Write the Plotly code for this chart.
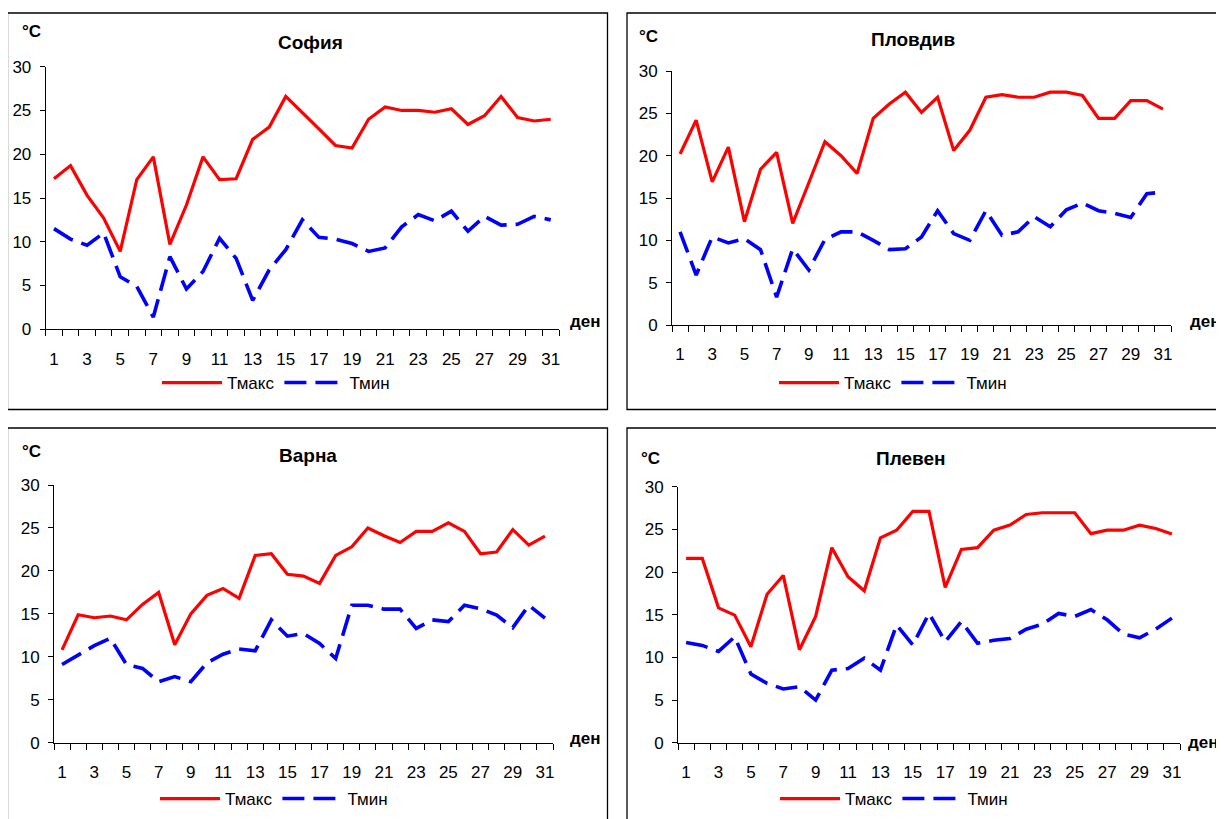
import plotly.graph_objects as go

days = list(range(1, 32))
cities = ["София", "Пловдив", "Варна", "Плевен"]
series_names = ["Тмакс", "Тмин"]

sofia_max = [17.2, 18.7, 15.3, 12.7, 8.9, 17.1, 19.7, 9.7, 14.2, 19.7, 17.1, 17.2, 21.7, 23.1, 26.6,
             24.8, 22.9, 21.0, 20.7, 24.0, 25.4, 25.0, 25.0, 24.8, 25.2, 23.4, 24.4, 26.6, 24.2, 23.8, 24.0]
sofia_min = [11.5, 10.3, 9.6, 11.0, 6.0, 4.9, 1.4, 8.3, 4.6, 6.6, 10.4, 8.1, 3.3, 6.8, 9.1,
             12.5, 10.5, 10.3, 9.8, 8.9, 9.3, 11.7, 13.1, 12.4, 13.5, 11.2, 12.9, 11.9, 12.0, 12.9, 12.5]

plovdiv_max = [20.2, 24.2, 16.9, 21.0, 12.2, 18.4, 20.4, 12.0, 16.8, 21.65, 20.0, 17.9, 24.4, 26.1, 27.5,
               25.1, 26.9, 20.6, 23.0, 26.9, 27.2, 26.9, 26.9, 27.5, 27.5, 27.1, 24.4, 24.4, 26.5, 26.5, 25.5]
plovdiv_min = [11.0, 5.9, 10.4, 9.7, 10.2, 8.9, 3.3, 9.0, 6.5, 10.1, 11.0, 11.0, 10.0, 8.9, 9.0,
               10.4, 13.5, 10.8, 10.0, 13.5, 10.6, 11.0, 12.8, 11.6, 13.6, 14.4, 13.5, 13.2, 12.7, 15.5, 15.7]

varna_max = [10.8, 14.9, 14.55, 14.75, 14.3, 16.1, 17.5, 11.4, 15.0, 17.15, 17.95, 16.8, 21.8, 22.0, 19.6,
             19.4, 18.55, 21.8, 22.8, 25.0, 24.1, 23.3, 24.6, 24.6, 25.6, 24.6, 22.0, 22.2, 24.8, 23.0, 24.05]
varna_min = [9.1, 10.2, 11.3, 12.15, 9.1, 8.65, 7.1, 7.7, 7.1, 9.3, 10.3, 10.9, 10.7, 14.3, 12.4,
             12.7, 11.55, 9.8, 16.0, 16.0, 15.55, 15.55, 13.3, 14.3, 14.1, 16.0, 15.6, 14.85, 13.4, 16.0, 14.5]

pleven_max = [21.6, 21.6, 15.8, 14.95, 11.25, 17.4, 19.6, 10.9, 14.8, 22.85, 19.45, 17.8, 24.0, 24.9, 27.1,
              27.1, 18.2, 22.65, 22.85, 24.9, 25.5, 26.75, 26.95, 26.95, 26.95, 24.5, 24.9, 24.9, 25.5, 25.1, 24.45]
pleven_min = [11.75, 11.4, 10.7, 12.4, 8.05, 6.95, 6.3, 6.55, 5.0, 8.5, 8.7, 9.9, 8.5, 13.8, 11.45,
              15.15, 11.85, 14.2, 11.65, 12.0, 12.2, 13.3, 13.9, 15.15, 14.8, 15.6, 14.4, 12.75, 12.3, 13.3, 14.6]

y_ticks = [0, 5, 10, 15, 20, 25, 30]
x_ticks = list(range(1, 32, 2))

data = [(sofia_max, sofia_min), (plovdiv_max, plovdiv_min), (varna_max, varna_min), (pleven_max, pleven_min)]

OFF = 8  # page body margin
W, H = 1224 - OFF, 819 - OFF
FONT = "Arial, Liberation Sans, sans-serif"


def px(x):
    return (x - OFF) / W


def py(y):
    return 1 - (y - OFF) / H


panels = [
    dict(plot=(45.7, 559, 66.7, 329.3), box=(7.5, 607.5, 13, 409.5), title=(310, 42), unit=(31, 32), den=(585, 321), leg=(276, 383)),
    dict(plot=(672, 1171, 71, 325), box=(627, 1240, 13, 409.5), title=(913, 40), unit=(648, 36), den=(1205, 321), leg=(893, 383)),
    dict(plot=(54, 553, 485, 742.7), box=(7.5, 607.5, 428, 840), title=(308, 455), unit=(31, 451), den=(585, 738), leg=(274, 799)),
    dict(plot=(678, 1180, 486.7, 742.7), box=(627, 1240, 428, 840), title=(911, 458), unit=(650, 458), den=(1203, 742), leg=(894, 799)),
]

fig = go.Figure()
shapes = []
annotations = []

for i, (p, (tmax, tmin)) in enumerate(zip(panels, data)):
    n = i + 1
    xa = "x" if n == 1 else f"x{n}"
    ya = "y" if n == 1 else f"y{n}"
    leg = "legend" if n == 1 else f"legend{n}"
    fig.add_trace(go.Scatter(x=days, y=tmax, mode="lines", name=series_names[0],
                             line=dict(color="#FF0000", width=3.2), xaxis=xa, yaxis=ya, legend=leg))
    fig.add_trace(go.Scatter(x=days, y=tmin, mode="lines", name=series_names[1],
                             line=dict(color="#0000FF", width=3.6, dash="22px,9px"), xaxis=xa, yaxis=ya, legend=leg))
    x0, x1, yt, yb = p["plot"]
    axx = dict(domain=[px(x0), px(x1)], range=[0.5, 31.5], anchor=ya,
               tickmode="array", tickvals=x_ticks, ticks="", ticklabelstandoff=14,
               showline=True, linecolor="#000000", linewidth=1, showgrid=False, zeroline=False,
               tickfont=dict(family=FONT, size=17, color="#000000"),
               minor=dict(tickmode="array", tickvals=[k + 0.5 for k in range(0, 32)], ticks="outside",
                          ticklen=6, tickcolor="#000000", tickwidth=1, showgrid=False))
    axy = dict(domain=[py(yb), py(yt)], range=[0, 30], anchor=xa,
               tickmode="array", tickvals=y_ticks, ticks="outside", ticklen=5, tickcolor="#000000",
               ticklabelstandoff=5,
               showline=True, linecolor="#000000", linewidth=1, showgrid=False, zeroline=False,
               tickfont=dict(family=FONT, size=17, color="#000000"))
    fig.update_layout(**{("xaxis" if n == 1 else f"xaxis{n}"): axx,
                         ("yaxis" if n == 1 else f"yaxis{n}"): axy})
    bx0, bx1, by0, by1 = p["box"]
    shapes.append(dict(type="rect", xref="paper", yref="paper", x0=px(bx0), x1=px(bx1),
                       y0=py(by1), y1=py(by0), line=dict(color="#000000", width=1.3),
                       fillcolor="rgba(0,0,0,0)", layer="below"))
    tx, ty = p["title"]
    annotations.append(dict(text=f"<b>{cities[i]}</b>", x=px(tx), y=py(ty), xref="paper", yref="paper",
                            showarrow=False, xanchor="center", yanchor="middle",
                            font=dict(family=FONT, size=19, color="#000000")))
    ux, uy = p["unit"]
    annotations.append(dict(text="<b>°C</b>", x=px(ux), y=py(uy), xref="paper", yref="paper",
                            showarrow=False, xanchor="center", yanchor="middle",
                            font=dict(family=FONT, size=17, color="#000000")))
    dx, dy = p["den"]
    annotations.append(dict(text="<b>ден</b>", x=px(dx), y=py(dy), xref="paper", yref="paper",
                            showarrow=False, xanchor="center", yanchor="middle",
                            font=dict(family=FONT, size=17, color="#000000")))
    lx, ly = p["leg"]
    fig.update_layout(**{leg: dict(orientation="h", x=px(lx), y=py(ly), xanchor="center", yanchor="middle",
                                   xref="paper", yref="paper", bgcolor="rgba(0,0,0,0)",
                                   font=dict(family=FONT, size=17, color="#000000"),
                                   itemwidth=60, tracegroupgap=0)})

fig.update_layout(width=W, height=H, margin=dict(l=0, r=0, t=0, b=0, pad=0, autoexpand=False),
                  paper_bgcolor="#FFFFFF", plot_bgcolor="#FFFFFF",
                  shapes=shapes, annotations=annotations, showlegend=True)

fig.write_html("out.html")
